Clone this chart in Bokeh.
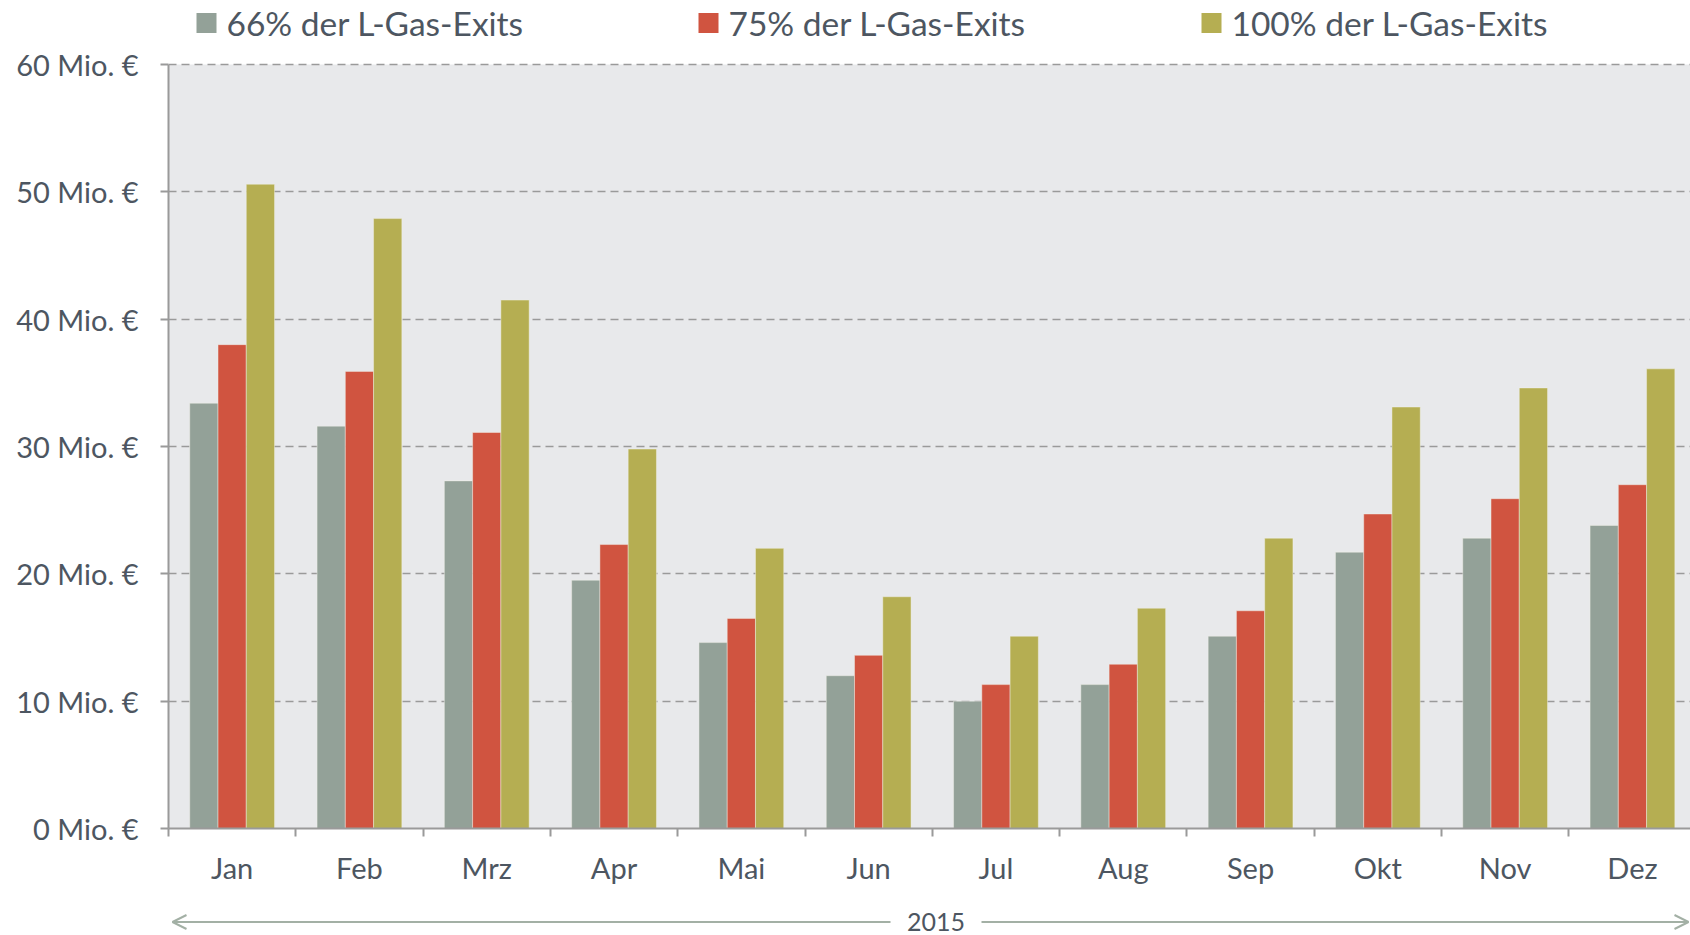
from bokeh.plotting import figure
from bokeh.layouts import column
from bokeh.models import (Range1d, FixedTicker, Arrow, OpenHead, ColumnDataSource, BoxAnnotation)
from bokeh.core.properties import value
from bokeh.embed import file_html
from bokeh.resources import INLINE

months = ["Jan", "Feb", "Mrz", "Apr", "Mai", "Jun", "Jul", "Aug", "Sep", "Okt", "Nov", "Dez"]
series_names = ["66% der L-Gas-Exits", "75% der L-Gas-Exits", "100% der L-Gas-Exits"]
s66 = [33.4, 31.6, 27.3, 19.5, 14.6, 12.0, 10.0, 11.3, 15.1, 21.7, 22.8, 23.8]
s75 = [38.0, 35.9, 31.1, 22.3, 16.5, 13.6, 11.3, 12.9, 17.1, 24.7, 25.9, 27.0]
s100 = [50.6, 47.9, 41.5, 29.8, 22.0, 18.2, 15.1, 17.3, 22.8, 33.1, 34.6, 36.1]
y_ticks = [0, 10, 20, 30, 40, 50, 60]
y_labels = [f"{t} Mio. €" for t in y_ticks]
year_label = "2015"

colors = ["#93a198", "#d05440", "#b5ae52"]
text_color = "#4d5661"
font = "Lato"

# layout constants (pixels)
W = 1690
H_MAIN = 895
H_ARROW = 40
LEFT = 168
CAT_PX = 127.3
PX_PER_UNIT = 12.733
FRAME_H = 828
x_end = (W - LEFT) / CAT_PX
y_top = FRAME_H / PX_PER_UNIT


def px_x(px):
    return (px - LEFT) / CAT_PX


def px_y(py):
    return (FRAME_H - py) / PX_PER_UNIT


p = figure(width=W, height=H_MAIN, output_backend="svg", toolbar_location=None,
           x_range=Range1d(0, x_end), y_range=Range1d(0, y_top),
           min_border_left=LEFT, min_border_right=0, min_border_top=0,
           min_border_bottom=H_MAIN - FRAME_H)
p.background_fill_color = "white"
p.border_fill_color = "white"
p.outline_line_color = None
p.add_layout(BoxAnnotation(bottom=0, top=60, fill_color="#e8e9eb", fill_alpha=1,
                           line_color=None, level="image"))
p.xgrid.grid_line_color = None
p.ygrid.grid_line_color = "#9a9a9a"
p.ygrid.grid_line_dash = "8 5"
p.ygrid.grid_line_width = 1.5
p.ygrid.ticker = FixedTicker(ticks=y_ticks)

centers = [i + 0.5 for i in range(len(months))]
bw = 0.222
for k, (vals, col) in enumerate(zip([s66, s75, s100], colors)):
    src = ColumnDataSource(dict(x=[c + (k - 1) * bw for c in centers], top=vals))
    p.vbar(x="x", top="top", width=bw, bottom=0, source=src, fill_color=col,
           line_color="#f2f2e8", line_alpha=0.45, line_width=1)

# y axis
ya = p.yaxis[0]
ya.ticker = FixedTicker(ticks=y_ticks)
ya.bounds = (0, 60)
ya.major_label_overrides = {t: l for t, l in zip(y_ticks, y_labels)}
ya.axis_line_color = "#9a9a9a"
ya.axis_line_width = 2
ya.major_tick_line_color = "#9a9a9a"
ya.major_tick_line_width = 2
ya.major_tick_out = 8
ya.major_tick_in = 0
ya.minor_tick_line_color = None
ya.major_label_standoff = 22
ya.major_label_text_font = font
ya.major_label_text_font_size = "29px"
ya.major_label_text_color = text_color

# x axis
xa = p.xaxis[0]
xa.ticker = FixedTicker(ticks=centers, minor_ticks=list(range(len(months) + 1)))
xa.major_label_overrides = {c: m for c, m in zip(centers, months)}
xa.axis_line_color = "#9a9a9a"
xa.axis_line_width = 2
xa.major_tick_line_color = None
xa.major_tick_out = 0
xa.major_tick_in = 0
xa.minor_tick_line_color = "#9a9a9a"
xa.minor_tick_line_width = 2
xa.minor_tick_out = 8
xa.minor_tick_in = 0
xa.major_label_standoff = 13
xa.major_label_text_font = font
xa.major_label_text_font_size = "29px"
xa.major_label_text_color = text_color

# legend (drawn as glyphs above the 60 line)
leg_sq_px = [206, 708, 1211]
leg_tx_px = [226, 728, 1231]
leg_y = px_y(22.5)
p.scatter(x=[px_x(v) for v in leg_sq_px], y=[leg_y] * 3, marker="square", size=20,
          fill_color=colors, line_color=None)
p.text(x=[px_x(v) for v in leg_tx_px], y=[leg_y] * 3, text=series_names,
       text_font=value(font), text_font_size="33.5px", text_color=text_color,
       text_baseline="middle", text_align="left")

# year arrow row
p2 = figure(width=W, height=H_ARROW, output_backend="svg", toolbar_location=None,
            x_range=p.x_range, y_range=Range1d(0, H_ARROW),
            min_border_left=LEFT, min_border_right=0, min_border_top=0, min_border_bottom=0)
p2.axis.visible = False
p2.grid.visible = False
p2.outline_line_color = None
p2.background_fill_color = "white"
p2.border_fill_color = "white"
arrow_col = "#a3b0a5"
ay = H_ARROW - 26.5
p2.add_layout(Arrow(end=OpenHead(size=14, line_color=arrow_col, line_width=2),
                    x_start=px_x(890), y_start=ay, x_end=px_x(172), y_end=ay,
                    line_color=arrow_col, line_width=2))
p2.add_layout(Arrow(end=OpenHead(size=14, line_color=arrow_col, line_width=2),
                    x_start=px_x(981), y_start=ay, x_end=px_x(1688), y_end=ay,
                    line_color=arrow_col, line_width=2))
p2.text(x=[px_x(935.5)], y=[ay], text=[year_label], text_font=value(font),
        text_font_size="25px", text_color=text_color, text_baseline="middle", text_align="center")

layout = column(p, p2, spacing=0)
open("out.html", "w").write(file_html(layout, INLINE))
